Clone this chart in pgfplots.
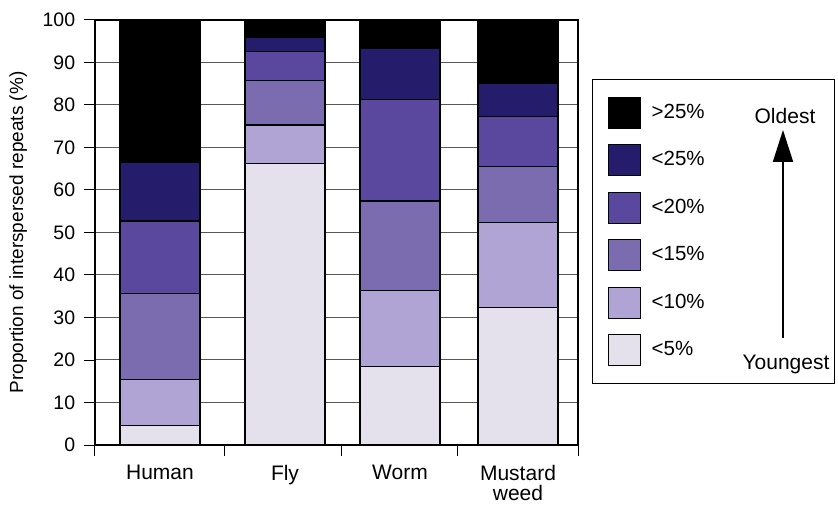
\documentclass[border=0pt]{standalone}
\usepackage{fontspec}
\setmainfont{Liberation Sans}
\usepackage{pgfplots}
\pgfplotsset{compat=1.18}
\usetikzlibrary{arrows.meta}
\definecolor{cA}{HTML}{E4E1EC}
\definecolor{cB}{HTML}{AFA4D3}
\definecolor{cC}{HTML}{7B6CAF}
\definecolor{cD}{HTML}{5A479E}
\definecolor{cE}{HTML}{251C6C}
\definecolor{cF}{HTML}{000000}
\definecolor{gridc}{HTML}{5E5650}
\begin{document}
\fontsize{20bp}{24bp}\selectfont
\begin{tikzpicture}
\path[use as bounding box] (-95bp,-60bp) rectangle (743bp,445bp);
\foreach \i in {1,...,9}{\draw[gridc, line width=1bp] (0bp,\i*42.5bp) -- (483bp,\i*42.5bp);}
\begin{axis}[
  scale only axis, width=483bp, height=425bp,
  xmin=0, xmax=483, ymin=0, ymax=100,
  ybar stacked, bar width=80bp,
  /pgf/number format/assume math mode=true,
  ytick={0,10,...,100},
  axis line style={black, line width=1.2bp},
  tick align=outside,
  xtick pos=bottom, ytick pos=left,
  major tick length=11bp,
  tick style={black, line width=1bp},
  xtick={0,129,246,362,483}, xticklabels={},
  extra x ticks={65,190,305,423},
  extra x tick labels={Human,Fly,Worm,{Mustard\\weed}},
  extra x tick style={major tick length=0pt},
  xticklabel style={align=center, font=\fontsize{21bp}{20bp}\selectfont, yshift=-13bp},
  yticklabel style={font=\fontsize{19.5bp}{22bp}\selectfont, xshift=-2bp},
  ylabel={Proportion of interspersed repeats (\%)},
  ylabel style={at={(axis description cs:-0.159,0.5)}, anchor=center, font=\fontsize{19bp}{22bp}\selectfont},
  legend style={at={(rel axis cs:1.029,0.861)}, anchor=north west,
    draw=black, line width=1.4bp, inner xsep=15bp, inner ysep=17bp,
    row sep=15.5bp, column sep=11bp,
    font=\fontsize{20.5bp}{24bp}\selectfont,
    nodes={inner sep=0pt, text width=168bp, align=left}},
  legend cell align=left,
  legend image code/.code={\draw[#1, line width=1bp] (0bp,-15.5bp) rectangle (32bp,15.5bp);},
  reverse legend,
  every axis plot/.append style={draw=black, line width=1.2bp},
]
\addplot[fill=cA] coordinates {(65,4.5) (190,66.3) (305,18.4) (423,32.4)};
\addplot[fill=cB] coordinates {(65,11.0) (190,9.0) (305,17.9) (423,19.9)};
\addplot[fill=cC] coordinates {(65,20.2) (190,10.4) (305,21.1) (423,13.3)};
\addplot[fill=cD] coordinates {(65,17.0) (190,6.8) (305,23.9) (423,11.7)};
\addplot[fill=cE] coordinates {(65,13.7) (190,3.5) (305,11.9) (423,7.8)};
\addplot[fill=cF] coordinates {(65,33.6) (190,4.0) (305,6.8) (423,14.9)};
\legend{{<5\%},{<10\%},{<15\%},{<20\%},{<25\%},{>25\%}}
\end{axis}
\node[font=\fontsize{21bp}{24bp}\selectfont] at (690bp,329bp) {Oldest};
\draw[line width=2bp, -{Triangle[width=20bp,length=32bp]}] (688bp,107bp) -- (688bp,315bp);
\node[font=\fontsize{21bp}{24bp}\selectfont] at (691bp,81bp) {Youngest};
\end{tikzpicture}
\end{document}
